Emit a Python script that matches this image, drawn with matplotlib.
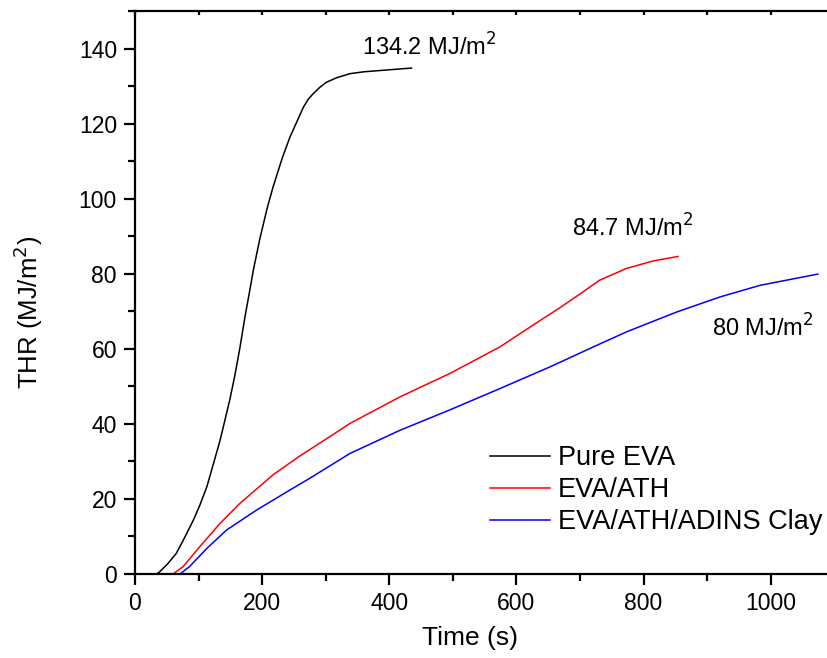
import matplotlib
matplotlib.use('Agg')

import matplotlib.pyplot as plt
from matplotlib.ticker import MultipleLocator

plt.rcParams['font.family'] = ['Liberation Sans', 'DejaVu Sans']

# Pure EVA
t_eva = [0, 34, 39, 52, 65, 76, 92, 102, 113, 128, 134, 149, 157, 165, 173, 180,
         186, 196, 208, 217, 232, 244, 265, 273, 280, 291, 301, 317, 338, 360,
         390, 435]
thr_eva = [0, 0, 0.6, 2.8, 5.5, 9.0, 14.4, 18.3, 23.2, 32.1, 35.7, 46.3, 52.8,
           60.2, 68.5, 75.0, 80.8, 89.0, 97.5, 103.0, 111.0, 116.5, 124.4, 126.6,
           127.9, 129.7, 131.0, 132.2, 133.3, 133.8, 134.2, 134.8]

# EVA/ATH
t_ath = [0, 60, 76, 102, 134, 165, 217, 259, 270, 322, 338, 417, 495, 574, 626,
         668, 700, 731, 773, 815, 854]
thr_ath = [0, 0, 2.0, 7.3, 13.5, 18.8, 26.4, 31.4, 32.6, 38.3, 40.1, 47.2, 53.4,
           60.5, 66.3, 70.9, 74.6, 78.3, 81.4, 83.4, 84.6]

# EVA/ATH/ADINS Clay
t_clay = [0, 71, 86, 113, 144, 191, 244, 275, 338, 417, 495, 574, 653, 721, 773,
          852, 920, 983, 1074]
thr_clay = [0, 0, 2.0, 6.8, 11.7, 17.0, 22.4, 25.5, 32.1, 38.3, 43.7, 49.4, 55.2,
            60.5, 64.5, 69.8, 73.8, 76.9, 79.9]

fig = plt.figure(figsize=(8.28, 6.58), dpi=100)
ax = fig.add_axes([0.163, 0.1277, 0.837, 0.8556])

ax.plot(t_eva, thr_eva, color='black', lw=1.1, label='Pure EVA')
ax.plot(t_ath, thr_ath, color='#ff0000', lw=1.1, label='EVA/ATH')
ax.plot(t_clay, thr_clay, color='#0000ff', lw=1.1, label='EVA/ATH/ADINS Clay')

ax.set_xlim(0, 1090)
ax.set_ylim(0, 150)

ax.xaxis.set_major_locator(MultipleLocator(200))
ax.xaxis.set_minor_locator(MultipleLocator(100))
ax.yaxis.set_major_locator(MultipleLocator(20))
ax.yaxis.set_minor_locator(MultipleLocator(10))

for s in ['left', 'bottom', 'top']:
    ax.spines[s].set_linewidth(1.6)
ax.spines['right'].set_visible(False)

ax.tick_params(which='major', direction='out', length=8, width=1.6, labelsize=16.5, pad=5)
ax.tick_params(which='minor', direction='out', length=5, width=1.6)
ax.tick_params(axis='x', which='both', top=True)
ax.tick_params(axis='y', which='both', right=False)

# top ticks point inward and are small
for tk in ax.xaxis.get_major_ticks() + ax.xaxis.get_minor_ticks():
    tk.tick2line.set_marker(3)
    tk.tick2line.set_markersize(3)

ax.set_xlabel('Time (s)', fontsize=19)
ax.set_ylabel('THR (MJ/m$^2$)', fontsize=18.5)
ax.xaxis.set_label_coords(0.483, -0.093)
ax.yaxis.set_label_coords(-0.13, 0.465)

ax.text(357, 140.3, '134.2 MJ/m$^2$', fontsize=17, va='center')
ax.text(687, 92.1, '84.7 MJ/m$^2$', fontsize=17, va='center')
ax.text(907, 65.5, '80 MJ/m$^2$', fontsize=17, va='center')

ax.legend(loc='upper left', bbox_to_anchor=(0.497, 0.248), frameon=False, fontsize=19.5,
          handlelength=2.2, handletextpad=0.3, labelspacing=0.22, borderaxespad=0)

fig.savefig('out.png', dpi=100)
